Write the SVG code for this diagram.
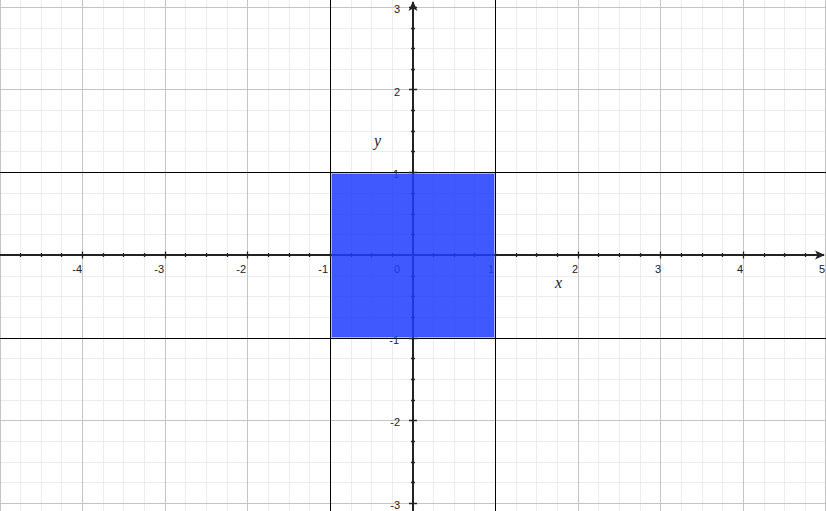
<svg xmlns="http://www.w3.org/2000/svg" width="826" height="511" viewBox="0 0 826 511">
<style>
.minor{stroke:#ececec;stroke-width:1;fill:none}
.major{stroke:#c4c4c4;stroke-width:1;fill:none}
.bound{stroke:#000;stroke-width:1;fill:none}
.axis{stroke:#222;stroke-width:2;fill:none}
.tick{stroke:#222;stroke-width:1.3;fill:none}
.num{font-family:"Liberation Sans",Arial,sans-serif;font-size:11px;fill:#222}
.xnum{text-anchor:end}
.var{font-family:"Liberation Serif","Times New Roman",serif;font-style:italic;font-size:16px;fill:#222}
</style>
<defs>
<marker id="arr" markerUnits="userSpaceOnUse" markerWidth="10" markerHeight="10" refX="9" refY="4.5" orient="auto" overflow="visible">
<path d="M0,0 L10,4.5 L0,9 L2.5,4.5 Z" fill="#222"/>
</marker>
</defs>
<rect width="826" height="511" fill="#fff"/>
<g id="grid">
<path class="minor" d="M20.5 0V511M41.5 0V511M61.5 0V511M103.5 0V511M123.5 0V511M144.5 0V511M185.5 0V511M206.5 0V511M227.5 0V511M268.5 0V511M289.5 0V511M309.5 0V511M351.5 0V511M371.5 0V511M392.5 0V511M433.5 0V511M454.5 0V511M474.5 0V511M516.5 0V511M536.5 0V511M557.5 0V511M598.5 0V511M619.5 0V511M640.5 0V511M681.5 0V511M702.5 0V511M722.5 0V511M764.5 0V511M784.5 0V511M805.5 0V511"/>
<path class="minor" d="M0 28.5H826M0 48.5H826M0 69.5H826M0 110.5H826M0 131.5H826M0 151.5H826M0 193.5H826M0 214.5H826M0 234.5H826M0 276.5H826M0 296.5H826M0 317.5H826M0 358.5H826M0 379.5H826M0 400.5H826M0 441.5H826M0 462.5H826M0 482.5H826"/>
<path class="major" d="M0.5 0V511M82.5 0V511M165.5 0V511M247.5 0V511M578.5 0V511M660.5 0V511M743.5 0V511M825.5 0V511"/>
<path class="major" d="M0 7.5H826M0 89.5H826M0 420.5H826M0 503.5H826"/>
</g>
<g id="bounds">
<path class="bound" d="M330.5 0V511M495.5 0V511M0 172.5H826M0 338.5H826"/>
</g>
<g id="axes">
<path class="axis" d="M0 255H824" marker-end="url(#arr)"/>
<path class="axis" d="M413 511V2" marker-end="url(#arr)"/>
<path class="tick" d="M20.5 253V257M41.5 253V257M61.5 253V257M103.5 253V257M123.5 253V257M144.5 253V257M185.5 253V257M206.5 253V257M227.5 253V257M268.5 253V257M289.5 253V257M309.5 253V257M351.5 253V257M371.5 253V257M392.5 253V257M433.5 253V257M454.5 253V257M474.5 253V257M516.5 253V257M536.5 253V257M557.5 253V257M598.5 253V257M619.5 253V257M640.5 253V257M681.5 253V257M702.5 253V257M722.5 253V257M764.5 253V257M784.5 253V257M805.5 253V257"/>
<path class="tick" d="M82.5 251.5V258.5M165.5 251.5V258.5M247.5 251.5V258.5M330.5 251.5V258.5M495.5 251.5V258.5M578.5 251.5V258.5M660.5 251.5V258.5M743.5 251.5V258.5"/>
<path class="tick" d="M411 28.5H415M411 48.5H415M411 69.5H415M411 110.5H415M411 131.5H415M411 151.5H415M411 193.5H415M411 214.5H415M411 234.5H415M411 276.5H415M411 296.5H415M411 317.5H415M411 358.5H415M411 379.5H415M411 400.5H415M411 441.5H415M411 462.5H415M411 482.5H415"/>
<path class="tick" d="M409 7.5H417M409 89.5H417M409 172.5H417M409 338.5H417M409 420.5H417M409 503.5H417"/>
</g>
<g id="labels" class="num">
<text class="xnum" x="82" y="273">-4</text>
<text class="xnum" x="164" y="273">-3</text>
<text class="xnum" x="246" y="273">-2</text>
<text class="xnum" x="328" y="273">-1</text>
<text class="xnum" x="400" y="273">0</text>
<text class="xnum" x="494" y="273">1</text>
<text class="xnum" x="578" y="273">2</text>
<text class="xnum" x="661" y="273">3</text>
<text class="xnum" x="743" y="273">4</text>
<text class="xnum" x="825" y="273">5</text>
<text class="xnum" x="400" y="13">3</text>
<text class="xnum" x="400" y="96">2</text>
<text class="xnum" x="399" y="178">1</text>
<text class="xnum" x="399" y="344">-1</text>
<text class="xnum" x="400" y="426">-2</text>
<text class="xnum" x="400" y="509">-3</text>
</g>
<g id="square">
<rect x="332" y="174" width="162" height="163" fill="#1e3cff" fill-opacity="0.85" stroke="#3050ff" stroke-opacity="0.4" stroke-width="2"/>
</g>
<g id="axis-names">
<text class="var" x="374" y="146">y</text>
<text class="var" x="555" y="288">x</text>
</g>
</svg>
